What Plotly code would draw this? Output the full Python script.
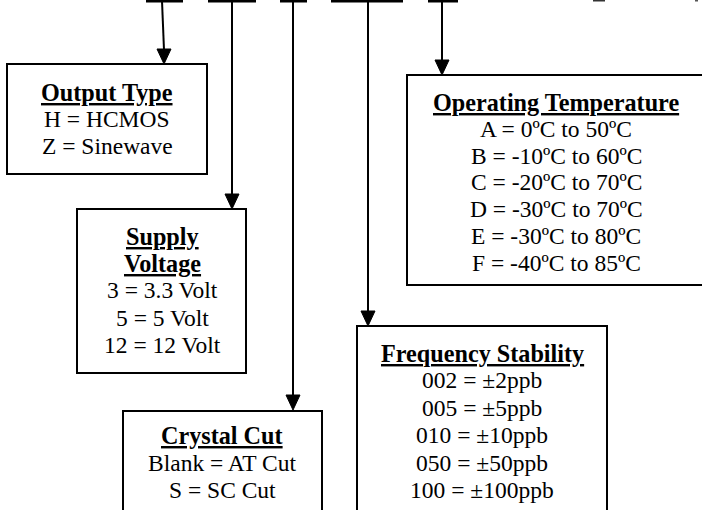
import plotly.graph_objects as go

# ---- data (texts) ----
output_title = ["Output Type"]
output_lines = ["H = HCMOS", "Z = Sinewave"]
supply_title = ["Supply", "Voltage"]
supply_lines = ["3 = 3.3 Volt", "5 = 5 Volt", "12 = 12 Volt"]
crystal_title = ["Crystal Cut"]
crystal_lines = ["Blank = AT Cut", "S = SC Cut"]
freq_title = ["Frequency Stability"]
freq_lines = ["002 = ±2ppb", "005 = ±5ppb", "010 = ±10ppb", "050 = ±50ppb", "100 = ±100ppb"]
temp_title = ["Operating Temperature"]
temp_lines = ["A = 0ºC to 50ºC", "B = -10ºC to 60ºC", "C = -20ºC to 70ºC",
              "D = -30ºC to 70ºC", "E = -30ºC to 80ºC", "F = -40ºC to 85ºC"]

# ---- layout geometry ----
W, H = 702, 510
FONT = "Liberation Serif, Times New Roman, serif"
FS = 23.5
FS_TITLE = 24.2

boxes = [
    dict(title=output_title, lines=output_lines, x0=7, x1=207, y0=64, y1=174, cx=107, y=92, dy=27),
    dict(title=supply_title, lines=supply_lines, x0=77, x1=246, y0=209, y1=373, cx=162, y=236, dy=27.2),
    dict(title=crystal_title, lines=crystal_lines, x0=123, x1=322, y0=411, y1=514, cx=222, y=435, dy=27.5),
    dict(title=freq_title, lines=freq_lines, x0=357, x1=607, y0=326, y1=514, cx=482, y=353, dy=27.4),
    dict(title=temp_title, lines=temp_lines, x0=407, x1=706, y0=75, y1=285, cx=556, y=102, dy=26.8),
]

# top code segments (y=1) and leader arrows
segments = [(146, 183), (208, 256), (280, 307), (331, 403), (428, 458)]
arrows = [(162, 164, 64), (232, 232, 209), (293, 293, 410), (368, 368, 326), (442, 442, 75)]

fig = go.Figure()
shapes = []
annotations = []

for a, b in segments:
    shapes.append(dict(type="line", x0=a, x1=b, y0=1, y1=1,
                       line=dict(color="black", width=3)))
# tiny clipped glyph fragments at top right
shapes.append(dict(type="line", x0=593, x1=605, y0=0.5, y1=0.5, line=dict(color="#333", width=2)))
shapes.append(dict(type="line", x0=695, x1=698, y0=0.5, y1=0.5, line=dict(color="#555", width=2)))

AH, AW = 15, 7
for xt, xb, ytip in arrows:
    shapes.append(dict(type="line", x0=xt, x1=xb, y0=1, y1=ytip - AH + 1,
                       line=dict(color="black", width=2)))
    shapes.append(dict(type="path",
                       path=f"M {xb-AW},{ytip-AH} L {xb+AW},{ytip-AH} L {xb},{ytip} Z",
                       fillcolor="black", line=dict(color="black", width=1)))

for bx in boxes:
    shapes.append(dict(type="rect", x0=bx["x0"], x1=bx["x1"], y0=bx["y0"], y1=bx["y1"],
                       line=dict(color="black", width=2), fillcolor="white", layer="below"))
    y = bx["y"]
    for t in bx["title"]:
        annotations.append(dict(x=bx["cx"], y=y, text=f"<b><u>{t}</u></b>", showarrow=False,
                                xanchor="center", yanchor="middle",
                                font=dict(family=FONT, size=FS_TITLE, color="black")))
        y += bx["dy"]
    for t in bx["lines"]:
        annotations.append(dict(x=bx["cx"], y=y, text=t, showarrow=False,
                                xanchor="center", yanchor="middle",
                                font=dict(family=FONT, size=FS, color="black")))
        y += bx["dy"]

fig.update_layout(
    width=W, height=H,
    margin=dict(l=0, r=0, t=0, b=0),
    paper_bgcolor="white", plot_bgcolor="white",
    xaxis=dict(range=[0, W], visible=False, fixedrange=True),
    yaxis=dict(range=[H, 0], visible=False, fixedrange=True),
    shapes=shapes, annotations=annotations, showlegend=False,
)
fig.write_html("out.html", config={"displayModeBar": False},
               post_script="document.body.style.margin='0';document.body.style.overflow='hidden';")
